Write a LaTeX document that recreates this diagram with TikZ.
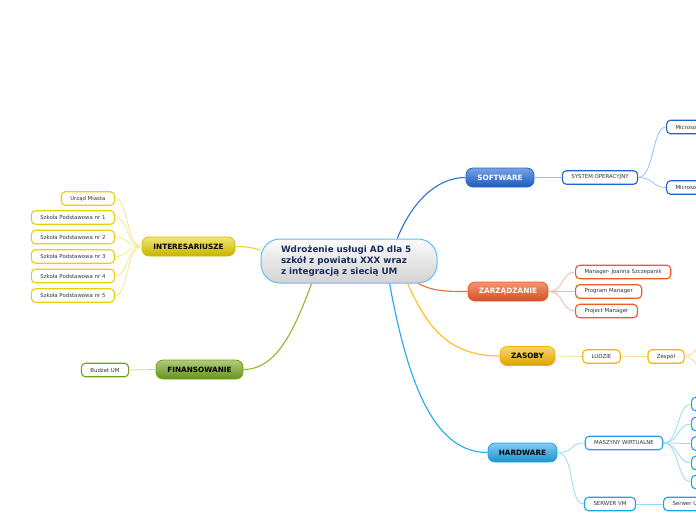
\documentclass[tikz,border=0pt]{standalone}
\usepackage{fontspec}
\setmainfont{DejaVu Sans}
\definecolor{txt}{HTML}{333333}
\definecolor{navy}{HTML}{1B2E5C}
\definecolor{swB}{HTML}{1F64D0}\definecolor{swL}{HTML}{9CBFF0}\definecolor{swM}{HTML}{2F72D6}
\definecolor{zrB}{HTML}{F05A28}\definecolor{zrL}{HTML}{F8B8A0}\definecolor{zrM}{HTML}{F06A40}
\definecolor{zsB}{HTML}{F5B400}\definecolor{zsL}{HTML}{FBDC90}\definecolor{zsM}{HTML}{FFBE20}
\definecolor{hwB}{HTML}{1FA2E6}\definecolor{hwL}{HTML}{9AD8F6}\definecolor{hwM}{HTML}{22AAEE}
\definecolor{inB}{HTML}{EAD200}\definecolor{inL}{HTML}{F4E890}\definecolor{inM}{HTML}{E8D830}
\definecolor{fiB}{HTML}{6FA318}\definecolor{fiL}{HTML}{C4DE90}\definecolor{fiM}{HTML}{8CBC28}
\begin{document}
\begin{tikzpicture}[x=1pt,y=-1pt,
  central/.style={draw=hwB!70, line width=1pt, rounded corners=19pt, top color=white!97!gray, bottom color=gray!35!white,
    minimum width=176pt, minimum height=44pt, text width=136pt, align=left, inner sep=0pt,
    font=\fontsize{8.8}{11}\selectfont\bfseries, text=navy},
  br/.style={draw, line width=0.8pt, rounded corners=7pt, minimum height=19pt, inner sep=0pt,
    font=\fontsize{7.3}{8}\selectfont\bfseries},
  lf/.style={draw, fill=white, line width=1.1pt, rounded corners=4pt, minimum height=13.5pt,
    inner xsep=9pt, inner ysep=0pt, font=\fontsize{5.4}{6}\selectfont, text=txt},
  main/.style={line width=1.1pt},
  sub/.style={line width=0.8pt}
]
\useasboundingbox (0,0) rectangle (696,520);
\fill[white] (0,0) rectangle (696,520);
\clip (0,0) rectangle (696,520);

% central
\node[central] (c) at (349,261) {Wdrożenie usługi AD dla 5\\ szkół z powiatu XXX wraz\\ z integracją z siecią UM};

% SOFTWARE
\node[br, draw=swB, top color=swB!60!white, bottom color=swB!90!black, text=white, minimum width=68pt] (sw) at (500,177.5) {SOFTWARE};
\node[lf, draw=swB] (so) at (600,177.5) {SYSTEM OPERACYJNY};
\node[lf, draw=swB, anchor=west, text width=40pt, align=left] (ms1) at (666,127) {Microso};
\node[lf, draw=swB, anchor=west, text width=40pt, align=left] (ms2) at (666,187.5) {Microso};

% ZARZADZANIE
\node[br, draw=zrB, top color=zrB!65!white, bottom color=zrB!88!black, text=white, minimum width=80pt] (zr) at (508,291.5) {ZARZĄDZANIE};
\node[lf, draw=zrB, anchor=west] (z1) at (575,272) {Manager- Joanna Szczepanik};
\node[lf, draw=zrB, anchor=west] (z2) at (575,291.5) {Program Manager};
\node[lf, draw=zrB, anchor=west] (z3) at (575,311) {Project Manager};

% ZASOBY
\node[br, draw=zsB, top color=zsB!55!white, bottom color=zsB!90!black, text=black, minimum width=55pt] (zs) at (527.5,356) {ZASOBY};
\node[lf, draw=zsB] (lu) at (601.5,356.5) {LUDZIE};
\node[lf, draw=zsB] (ze) at (666,356.5) {Zespół};
\coordinate (zx1) at (716,330);
\coordinate (zx2) at (716,383);

% HARDWARE
\node[br, draw=hwB, top color=hwB!55!white, bottom color=hwB!90!black, text=black, minimum width=69pt] (hw) at (522.5,452.5) {HARDWARE};
\node[lf, draw=hwB] (mw) at (624,443) {MASZYNY WIRTUALNE};
\node[lf, draw=hwB, anchor=west, minimum width=30pt] (h1) at (691,404) {};
\node[lf, draw=hwB, anchor=west, minimum width=30pt] (h2) at (691,424) {};
\node[lf, draw=hwB, anchor=west, minimum width=30pt] (h3) at (691,443.5) {};
\node[lf, draw=hwB, anchor=west, minimum width=30pt] (h4) at (691,463) {};
\node[lf, draw=hwB, anchor=west, minimum width=30pt] (h5) at (691,482) {};
\node[lf, draw=hwB] (sv) at (610,504) {SERWER VM};
\node[lf, draw=hwB, anchor=west, text width=40pt, align=left] (su) at (663,504) {Serwer U};

% INTERESARIUSZE
\node[br, draw=inB!90!black, top color=inB!55!white, bottom color=inB!85!black, text=black, minimum width=93pt] (in) at (188.5,246.5) {INTERESARIUSZE};
\node[lf, draw=inB, anchor=east] (i0) at (115,198.5) {Urząd Miasta};
\node[lf, draw=inB, anchor=east] (i1) at (115,217.5) {Szkoła Podstawowa nr 1};
\node[lf, draw=inB, anchor=east] (i2) at (115,237) {Szkoła Podstawowa nr 2};
\node[lf, draw=inB, anchor=east] (i3) at (115,256.5) {Szkoła Podstawowa nr 3};
\node[lf, draw=inB, anchor=east] (i4) at (115,276) {Szkoła Podstawowa nr 4};
\node[lf, draw=inB, anchor=east] (i5) at (115,295.5) {Szkoła Podstawowa nr 5};

% FINANSOWANIE
\node[br, draw=fiB, top color=fiB!55!white, bottom color=fiB!90!black, text=black, minimum width=87pt] (fi) at (199.5,369.5) {FINANSOWANIE};
\node[lf, draw=fiB] (bu) at (105,370) {Budżet UM};

% main connectors
\draw[main, swM] (c.25) .. controls +(14,-35) and +(-30,0) .. (sw.west);
\draw[main, zrM] (c.-18) .. controls +(15,8) and +(-20,0) .. (zr.west);
\draw[main, zsM] (c.-21) .. controls +(20,45) and +(-50,0) .. (zs.west);
\draw[main, hwM] (c.-29) .. controls +(20,110) and +(-50,0) .. (hw.west);
\draw[main, inM] (c.173) .. controls +(-10,-3) and +(10,0) .. (in.east);
\draw[main, fiM] (c.211) .. controls +(-20,55) and +(30,0) .. (fi.east);

% sub connectors
\draw[sub, swL] (sw.east) -- (so.west);
\foreach \t in {ms1,ms2} \draw[sub, swL] (so.east) .. controls +(16,0) and +(-14,0) .. (\t.west);
\foreach \t in {z1,z2,z3} \draw[sub, zrL] (zr.east) .. controls +(16,0) and +(-14,0) .. (\t.west);
\draw[sub, zsL] (zs.east) -- (lu.west);
\draw[sub, zsL] (lu.east) -- (ze.west);
\foreach \t in {zx1,zx2} \draw[sub, zsL] (ze.east) .. controls +(14,0) and +(-14,0) .. (\t);
\foreach \t in {mw,sv} \draw[sub, hwL] (hw.east) .. controls +(18,0) and +(-16,0) .. (\t.west);
\foreach \t in {h1,h2,h3,h4,h5} \draw[sub, hwL] (mw.east) .. controls +(16,0) and +(-14,0) .. (\t.west);
\draw[sub, hwL] (sv.east) -- (su.west);
\foreach \t in {i0,i1,i2,i3,i4,i5} \draw[sub, inL] (in.west) .. controls +(-16,0) and +(14,0) .. (\t.east);
\draw[sub, fiL] (fi.west) -- (bu.east);
\end{tikzpicture}
\end{document}
